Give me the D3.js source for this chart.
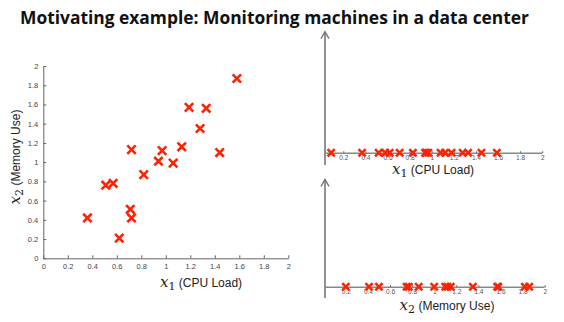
<!DOCTYPE html>
<html><head><meta charset="utf-8">
<script src="https://cdn.jsdelivr.net/npm/d3@7/dist/d3.min.js"></script>
<style>body{margin:0;background:#fff}svg{display:block}</style>
</head><body>
<svg id="c" width="564" height="322"></svg>
<script>
// Data
const cpuLoad   = [0.36,0.51,0.57,0.62,0.71,0.72,0.72,0.82,0.94,0.97,1.06,1.13,1.19,1.28,1.33,1.44,1.58];
const memoryUse = [0.42,0.76,0.78,0.21,0.51,0.42,1.13,0.87,1.01,1.12,0.99,1.16,1.57,1.35,1.56,1.10,1.87];
const stripX1 = [0.09,0.37,0.52,0.58,0.62,0.71,0.83,0.94,0.95,0.97,1.08,1.12,1.18,1.28,1.33,1.45,1.59];
const stripX2 = [0.20,0.41,0.50,0.75,0.77,0.86,1.00,1.10,1.12,1.15,1.35,1.57,1.58,1.82,1.86];
const ticks = [0,0.2,0.4,0.6,0.8,1,1.2,1.4,1.6,1.8,2];
const stripTicks = [0.2,0.4,0.6,0.8,1,1.2,1.4,1.6,1.8,2];
const title = "Motivating example: Monitoring machines in a data center";

const svg = d3.select("#c");
const red = "#ff2200", axisCol = "#666";
const fmt = d => (d===0||d===1||d===2) ? String(d) : d3.format(".1f")(d);

svg.append("text").attr("x",20).attr("y",24).attr("font-family","Open Sans, sans-serif")
  .attr("font-weight","bold").attr("font-size",18).attr("fill","#111")
  .attr("textLength",509).attr("lengthAdjust","spacingAndGlyphs").text(title);

function cross(g, cx, cy, r, w){
  g.append("path").attr("d",`M${cx-r},${cy-r}L${cx+r},${cy+r}M${cx-r},${cy+r}L${cx+r},${cy-r}`)
   .attr("stroke",red).attr("stroke-width",w).attr("fill","none");
}

// Main scatter
const x = d3.scaleLinear().domain([0,2]).range([43.3,288.3]);
const y = d3.scaleLinear().domain([0,2]).range([258.3,66]);
const gx = svg.append("g").attr("transform","translate(0,258.3)")
  .call(d3.axisBottom(x).tickValues(ticks).tickFormat(fmt).tickSizeInner(-3).tickSizeOuter(0).tickPadding(5));
const gy = svg.append("g").attr("transform","translate(43.3,0)")
  .call(d3.axisLeft(y).tickValues(ticks).tickFormat(fmt).tickSizeInner(-3).tickSizeOuter(0).tickPadding(5));
[gx,gy].forEach(g=>{
  g.selectAll("path,line").attr("stroke",axisCol);
  g.selectAll("text").attr("font-family","Liberation Sans, Arial, sans-serif").attr("font-size",7.5).attr("fill","#444");
});
const pts = svg.append("g");
cpuLoad.forEach((v,i)=>cross(pts, x(v), y(memoryUse[i]), 4.2, 2.6));

function mathLabel(parent, tx, ty, sub, rest, size, rotate){
  const t = parent.append("text").attr("fill","#222")
    .attr("transform",`translate(${tx},${ty})${rotate?" rotate(-90)":""}`).attr("text-anchor","middle");
  t.append("tspan").attr("font-family","DejaVu Serif, serif").attr("font-style","italic").attr("font-size",size+3).text("x");
  t.append("tspan").attr("font-family","DejaVu Serif, serif").attr("font-size",size-1).attr("dy",3).text(sub);
  t.append("tspan").attr("font-family","Liberation Sans, Arial, sans-serif").attr("font-size",size).attr("dy",-3).text(rest);
  return t;
}
mathLabel(svg, 201, 287, "1", "  (CPU Load)", 12, false);
mathLabel(svg, 20, 157, "2", " (Memory Use)", 12, true);

// Strips
function strip(top, bottom, axisY, x0, values, sub, rest, labelX, labelY){
  const s = d3.scaleLinear().domain([0,2]).range([x0, x0+221]);
  const g = svg.append("g");
  g.append("line").attr("x1",325).attr("x2",325).attr("y1",top).attr("y2",bottom).attr("stroke","#777").attr("stroke-width",1.6);
  g.append("path").attr("d",`M321,${top+7}L325,${top}L329,${top+7}`).attr("stroke","#777").attr("stroke-width",1.4).attr("fill","none");
  const ax = g.append("g").attr("transform",`translate(0,${axisY})`)
    .call(d3.axisBottom(s).tickValues(stripTicks).tickFormat(fmt).tickSizeInner(-2).tickSizeOuter(0).tickPadding(2));
  ax.select(".domain").remove();
  ax.selectAll("line").attr("stroke","#555");
  ax.selectAll("text").attr("font-family","Liberation Sans, Arial, sans-serif").attr("font-size",6.5).attr("fill","#555");
  g.append("line").attr("x1",325).attr("x2",s(2)).attr("y1",axisY).attr("y2",axisY).attr("stroke","#888").attr("stroke-width",1.5);
  values.forEach(v=>cross(g, s(v), axisY-0.5, 3.6, 2.6));
  mathLabel(g, labelX, labelY, sub, rest, 12, false);
}
strip(31.7, 165, 153.3, 321.2, stripX1, "1", "   (CPU Load)", 433, 174);
strip(179.3, 298, 287.3, 323.7, stripX2, "2", " (Memory Use)", 447, 310);
</script>
</body></html>
